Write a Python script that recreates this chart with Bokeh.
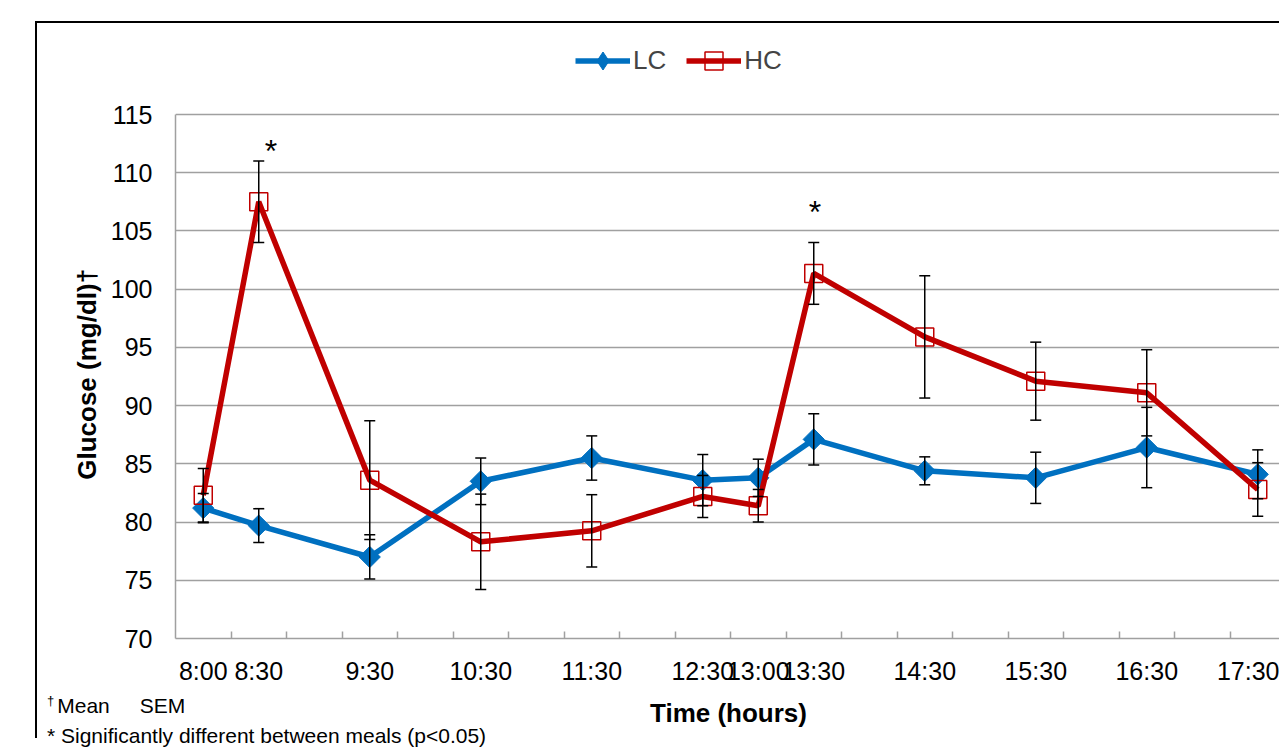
from bokeh.plotting import figure
from bokeh.layouts import column
from bokeh.models import (ColumnDataSource, FixedTicker, Whisker, TeeHead, Legend,
                          LegendItem, Range1d, Div)
from bokeh.core.properties import value
from bokeh.embed import file_html
from bokeh.resources import INLINE

# ---------------- data ----------------
times = ["8:00", "8:30", "9:30", "10:30", "11:30", "12:30", "13:00",
         "13:30", "14:30", "15:30", "16:30", "17:30"]
lc_mean = [81.2, 79.7, 77.0, 83.5, 85.5, 83.6, 83.8, 87.1, 84.4, 83.8, 86.4, 84.1]
lc_sem = [1.25, 1.45, 1.9, 2.0, 1.9, 2.2, 1.6, 2.2, 1.2, 2.2, 3.45, 2.1]
hc_mean = [82.3, 107.5, 83.6, 78.3, 79.25, 82.2, 81.4, 101.35, 95.9, 92.1, 91.1, 82.8]
hc_sem = [2.3, 3.5, 5.1, 4.1, 3.1, 1.8, 1.4, 2.65, 5.25, 3.35, 3.7, 2.3]
sig_times = ["8:30", "13:30"]
sig_y = [111.9, 106.6]
sig_dx = [0.22, 0.02]
y_ticks = [70, 75, 80, 85, 90, 95, 100, 105, 110, 115]
n_slots = 20  # half-hour slots from 8:00 to 17:30
footnote_1 = ("†", "Mean", "SEM")
footnote_2 = "* Significantly different between meals (p<0.05)"

FONT = "Liberation Sans"
NB = "\u00a0"


def slot(t):
    h, m = t.split(":")
    return (int(h) * 60 + int(m) - 480) / 30 + 0.5


xs = [slot(t) for t in times]

# ---------------- layout ----------------
W, H = 1244, 717
ML, MB = 138, 102
top_pad = 91                       # px between canvas top and the 115 gridline
frame_w = W - ML
px_per_slot = 55.5
px_per_unit = (H - MB - top_pad) / (y_ticks[-1] - y_ticks[0])
y_top = y_ticks[-1] + top_pad / px_per_unit

p = figure(width=W, height=H, output_backend="svg", toolbar_location=None,
           x_range=Range1d(0, frame_w / px_per_slot),
           y_range=Range1d(y_ticks[0], y_top),
           min_border_left=ML, min_border_top=0, min_border_bottom=MB,
           min_border_right=0, margin=(21, 0, 0, 35),
           styles={"border-left": "2px solid black", "border-top": "2px solid black"})
p.outline_line_color = None
p.background_fill_color = "white"
p.border_fill_color = "white"

GRAY = "#a0a0a0"
p.xgrid.grid_line_color = None
p.ygrid.grid_line_color = GRAY
p.ygrid.grid_line_width = 1.5
p.yaxis.ticker = FixedTicker(ticks=y_ticks)
p.yaxis.bounds = (y_ticks[0], y_ticks[-1])
p.xaxis.ticker = FixedTicker(ticks=xs, minor_ticks=list(range(1, n_slots)))
p.xaxis.major_label_overrides = {x: t for x, t in zip(xs, times)}

for ax in (p.xaxis[0], p.yaxis[0]):
    ax.axis_line_color = GRAY
    ax.axis_line_width = 1.5
    ax.major_tick_in = 0
    ax.major_tick_out = 0
    ax.minor_tick_out = 0
    ax.major_label_text_font = FONT
    ax.major_label_text_font_size = "25px"
    ax.major_label_text_color = "black"
    ax.axis_label_text_font = FONT
    ax.axis_label_text_font_size = "26px"
    ax.axis_label_text_font_style = "bold"
    ax.axis_label_text_color = "black"
p.xaxis.minor_tick_in = 7
p.xaxis.minor_tick_line_color = GRAY
p.xaxis.minor_tick_line_width = 1.5
p.yaxis.minor_tick_in = 0
p.xaxis.major_label_standoff = 18
p.yaxis.major_label_standoff = 23
# padding keeps the y title centred on the 70-115 plot area
p.xaxis.axis_label = "Time (hours)"
p.yaxis.axis_label = "Glucose (mg/dl)†" + NB * 12
p.xaxis.axis_label_standoff = 10
p.yaxis.axis_label_standoff = 6

BLUE = "#0070C0"
RED = "#C00000"

lc = ColumnDataSource(dict(x=xs, y=lc_mean,
                           lo=[m - s for m, s in zip(lc_mean, lc_sem)],
                           hi=[m + s for m, s in zip(lc_mean, lc_sem)]))
hc = ColumnDataSource(dict(x=xs, y=hc_mean,
                           lo=[m - s for m, s in zip(hc_mean, hc_sem)],
                           hi=[m + s for m, s in zip(hc_mean, hc_sem)]))


def add_whisker(src):
    w = Whisker(source=src, base="x", lower="lo", upper="hi",
                line_color="black", line_width=1.5, level="glyph",
                upper_head=TeeHead(size=11, line_color="black", line_width=1.5),
                lower_head=TeeHead(size=11, line_color="black", line_width=1.5))
    p.add_layout(w)


add_whisker(lc)
lc_line = p.line("x", "y", source=lc, line_color=BLUE, line_width=5.5)
lc_mark = p.scatter("x", "y", source=lc, marker="square", angle=0.785398,
                    size=15, fill_color=BLUE, line_color=BLUE)
# diamond glyph (hidden inside the rotated squares) used for the legend,
# since legends draw markers unrotated
lc_leg = p.scatter("x", "y", source=lc, marker="diamond", size=15,
                   fill_color=BLUE, line_color=BLUE)
add_whisker(hc)
hc_line = p.line("x", "y", source=hc, line_color=RED, line_width=5.5)
hc_mark = p.scatter("x", "y", source=hc, marker="square", size=18,
                    fill_color=None, line_color=RED, line_width=1.5)

# significance stars
p.text(x=[slot(t) + d for t, d in zip(sig_times, sig_dx)], y=sig_y,
       text=["*"] * len(sig_times), text_font=value(FONT),
       text_font_size="32px", text_align="center", text_baseline="alphabetic",
       text_color="black")

legend = Legend(items=[LegendItem(label="LC", renderers=[lc_line, lc_leg]),
                       LegendItem(label="HC", renderers=[hc_line, hc_mark])],
                orientation="horizontal", location=(400, 555),
                glyph_width=55, glyph_height=45, label_standoff=3, spacing=20,
                padding=0, margin=0, border_line_color=None,
                background_fill_alpha=0, label_text_font=FONT,
                label_text_font_size="26px", label_height=45)
p.add_layout(legend, "center")

# footnotes below the chart, overlapping the bottom band of the figure
dag, mean_txt, sem_txt = footnote_1
note_html = (f'<span style="font-size:13px;position:relative;top:-8px;'
             f'margin-right:3px">{dag}</span>'
             f'{mean_txt}<span style="display:inline-block;width:30px"></span>{sem_txt}<br>'
             + footnote_2.replace("<", "&lt;"))
notes = Div(text=note_html, width=520, height=55, margin=(-46, 0, 0, 47),
            styles={"font-family": FONT, "font-size": "21px", "line-height": "27px",
                    "color": "black", "white-space": "nowrap"})

open("out.html", "w").write(file_html(column(p, notes), INLINE))
